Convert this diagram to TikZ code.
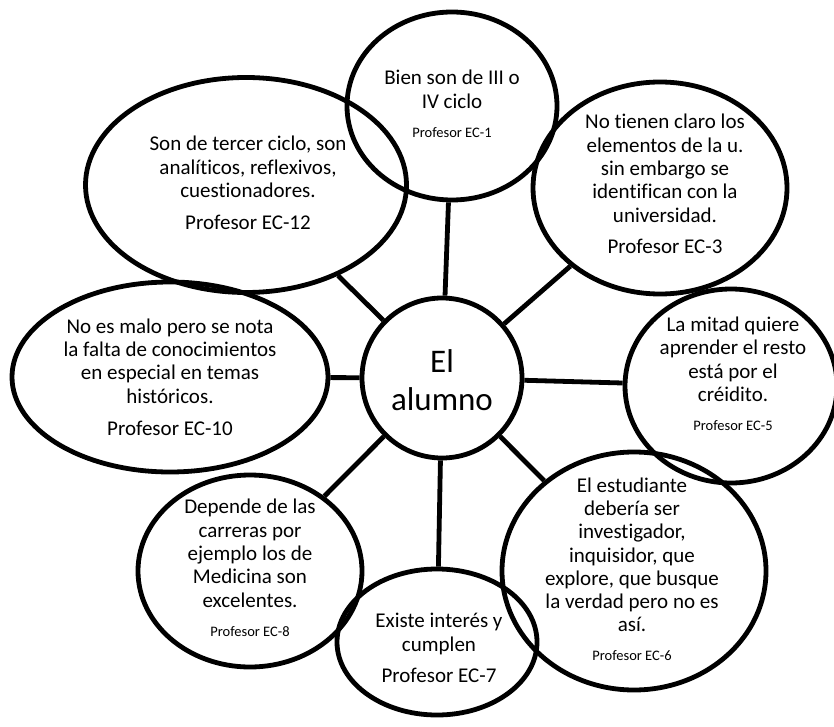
\documentclass[tikz,border=0pt]{standalone}
\usepackage{fontspec}
\setmainfont{Carlito}[Ligatures={NoCommon}]
\usetikzlibrary{shapes.geometric}

\newcommand{\profs}[1]{{\fontsize{14.5}{16}\selectfont Profesor EC-#1}}

\begin{document}
\begin{tikzpicture}[x=1pt,y=-1pt]
\tikzstyle{bubble}=[draw,ellipse,line width=4.8pt,inner sep=0pt]
\tikzstyle{txt}=[align=center,inner sep=0pt,font=\fontsize{21}{23.3}\selectfont]
\tikzstyle{link}=[line width=4.8pt]
\useasboundingbox (0,0) rectangle (834,727);
% centro
\node [draw,circle,line width=4.8pt,inner sep=0pt,minimum size=160pt] (alumno) at (442,378) {};
\node [align=center,inner sep=0pt,font=\fontsize{33}{38}\selectfont] (talumno) at (442,380) {El\\alumno};
% burbujas
\node [bubble,minimum width=210pt,minimum height=188pt] (ec1) at (452,106) {};
\node [bubble,minimum width=321pt,minimum height=215pt] (ec12) at (246,185) {};
\node [bubble,minimum width=254pt,minimum height=212pt] (ec3) at (660,188) {};
\node [bubble,minimum width=316pt,minimum height=190pt] (ec10) at (170,377) {};
\node [bubble,minimum width=212pt,minimum height=194pt] (ec5) at (731,386) {};
\node [bubble,minimum width=224pt,minimum height=192pt] (ec8) at (250,571) {};
\node [bubble,minimum width=200pt,minimum height=146pt] (ec7) at (437,642) {};
\node [bubble,minimum width=264pt,minimum height=238pt] (ec6) at (634,571) {};
% textos
\node [txt] (t1) at (452,104) {Bien son de III o\\IV ciclo\\[6pt]\profs{1}};
\node [txt] (t12) at (248,183) {Son de tercer ciclo, son\\analíticos, reflexivos,\\cuestionadores.\\[9pt]Profesor EC-12};
\node [txt] (t3) at (665,184) {No tienen claro los\\elementos de la u.\\sin embargo se\\identifican con la\\universidad.\\[8pt]Profesor EC-3};
\node [txt] (t10) at (170,377) {No es malo pero se nota\\la falta de conocimientos\\en especial en temas\\históricos.\\[9pt]Profesor EC-10};
\node [txt] (t5) at (733,374) {La mitad quiere\\aprender el resto\\está por el\\créidito.\\[6pt]\profs{5}};
\node [txt] (t8) at (250,568) {Depende de las\\carreras por\\ejemplo los de\\Medicina son\\excelentes.\\[6pt]\profs{8}};
\node [txt] (t7) at (439,648) {Existe interés y\\cumplen\\[8pt]Profesor EC-7};
\node [txt] (t6) at (632,569) {El estudiante\\debería ser\\investigador,\\inquisidor, que\\explore, que busque\\la verdad pero no es\\así.\\[5pt]\profs{6}};
% conectores
\draw [link] (alumno) -- (ec1);
\draw [link] (alumno) -- (ec12);
\draw [link] (alumno) -- (ec3);
\draw [link] (alumno) -- (ec10);
\draw [link] (alumno) -- (ec5);
\draw [link] (alumno) -- (ec8);
\draw [link] (alumno) -- (ec7);
\draw [link] (alumno) -- (ec6);
\end{tikzpicture}
\end{document}
